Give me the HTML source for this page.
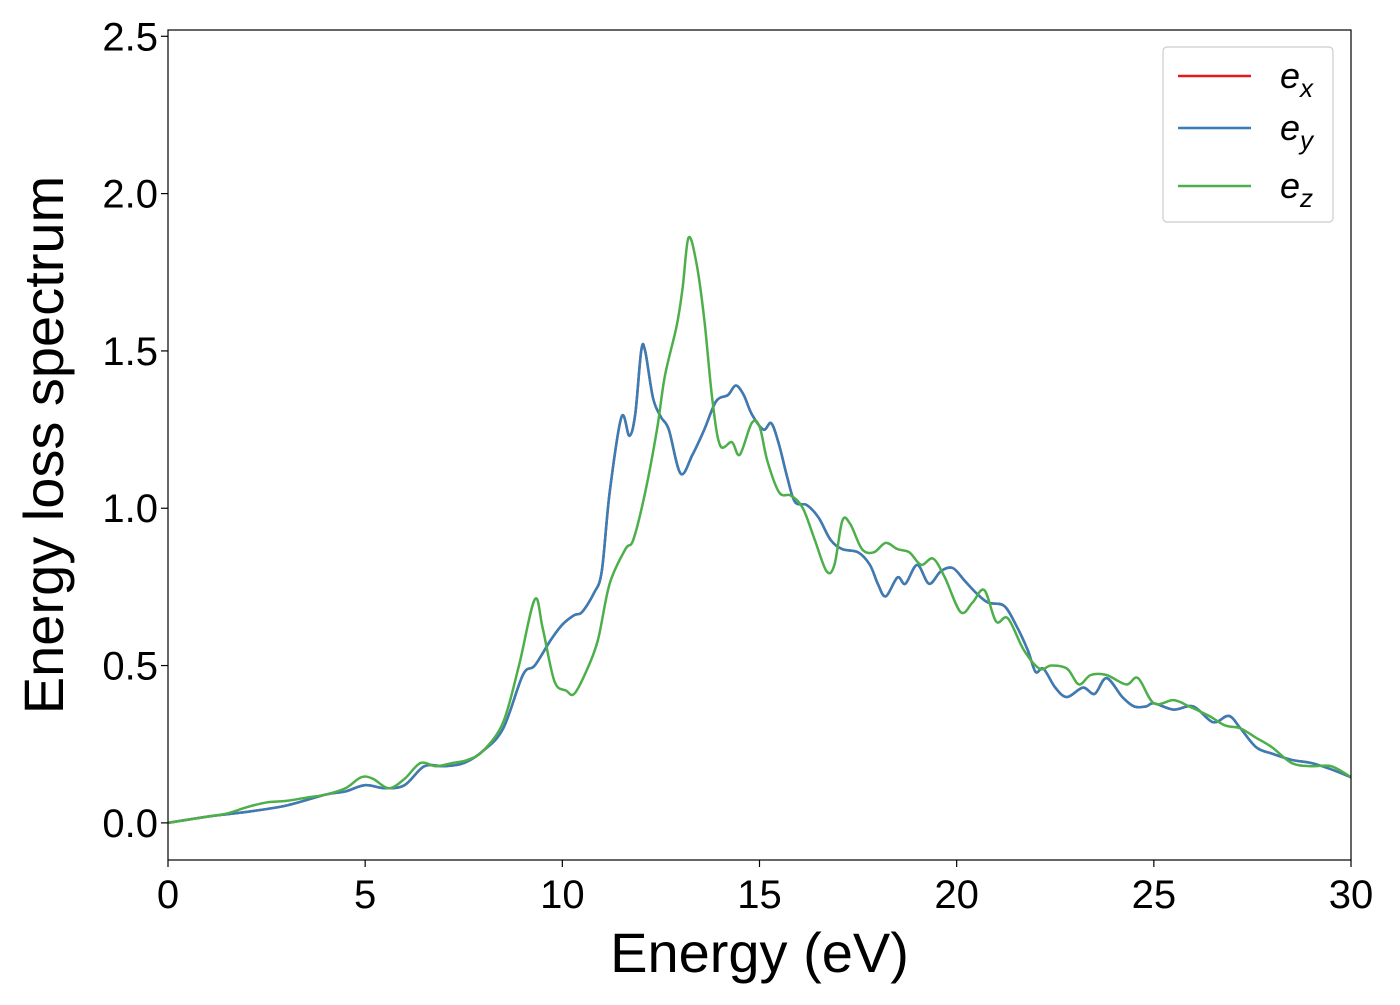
<!DOCTYPE html>
<html><head><meta charset="utf-8"><style>
body{margin:0;background:#fff}
text{font-family:"Liberation Sans","DejaVu Sans",sans-serif}
</style></head><body>
<svg id="chart" width="1400" height="1000" xmlns="http://www.w3.org/2000/svg">
<rect width="1400" height="1000" fill="#fff"/>
<g id="plot"></g>
</svg>
<script>
const xTicks=[0,5,10,15,20,25,30];
const yTicks=[0.0,0.5,1.0,1.5,2.0,2.5];
const xyEnergy=[0,1,2,3,4,4.5,5,5.5,6,6.5,7,7.5,8,8.5,9,9.3,9.7,10,10.3,10.5,10.8,11,11.2,11.5,11.7,11.85,12,12.1,12.3,12.5,12.7,13,13.3,13.6,13.9,14.2,14.4,14.6,14.8,15.1,15.3,15.5,15.7,15.9,16.2,16.5,16.8,17.1,17.5,17.8,18,18.2,18.5,18.7,19,19.3,19.6,19.9,20.2,20.5,20.8,21.2,21.5,21.8,22,22.2,22.5,22.8,23.2,23.5,23.8,24.2,24.5,24.8,25,25.5,26,26.5,26.9,27.2,27.6,28,28.5,29,29.5,30];
const xyLoss=[0,0.02,0.035,0.055,0.09,0.1,0.12,0.11,0.12,0.18,0.18,0.19,0.23,0.3,0.47,0.5,0.58,0.63,0.66,0.67,0.73,0.8,1.05,1.29,1.23,1.3,1.5,1.5,1.35,1.29,1.25,1.11,1.17,1.25,1.34,1.36,1.39,1.36,1.3,1.25,1.27,1.2,1.1,1.02,1.01,0.97,0.9,0.87,0.86,0.82,0.76,0.72,0.78,0.76,0.82,0.76,0.8,0.81,0.77,0.73,0.7,0.69,0.63,0.55,0.48,0.49,0.43,0.4,0.43,0.41,0.46,0.4,0.37,0.37,0.38,0.36,0.37,0.32,0.34,0.3,0.24,0.22,0.2,0.19,0.17,0.145];
const zEnergy=[0,1,1.5,2,2.5,3,3.5,4,4.5,4.9,5.2,5.6,6,6.4,6.8,7.2,7.6,8,8.5,8.9,9.3,9.5,9.8,10.1,10.3,10.6,10.9,11.2,11.6,11.8,12.1,12.4,12.6,12.9,13.05,13.2,13.4,13.6,13.8,14,14.3,14.5,14.8,15,15.2,15.5,15.8,16.1,16.4,16.7,16.9,17.1,17.3,17.6,17.9,18.2,18.5,18.8,19.1,19.4,19.7,20.1,20.4,20.7,21,21.3,21.7,22.1,22.4,22.8,23.1,23.4,23.8,24.3,24.6,25,25.5,25.9,26.4,26.8,27.2,27.6,28,28.5,29,29.5,30];
const zLoss=[0,0.02,0.03,0.05,0.065,0.07,0.08,0.09,0.11,0.145,0.14,0.11,0.14,0.19,0.18,0.19,0.2,0.23,0.32,0.5,0.71,0.62,0.45,0.42,0.41,0.48,0.58,0.76,0.87,0.9,1.05,1.25,1.42,1.58,1.7,1.86,1.78,1.6,1.35,1.2,1.21,1.17,1.27,1.26,1.15,1.05,1.04,1.0,0.9,0.8,0.82,0.96,0.95,0.87,0.86,0.89,0.87,0.86,0.82,0.84,0.78,0.67,0.7,0.74,0.64,0.65,0.55,0.49,0.5,0.49,0.44,0.47,0.47,0.44,0.46,0.38,0.39,0.37,0.34,0.31,0.3,0.27,0.24,0.19,0.18,0.18,0.145];

const L=168,R=1351,T=30,B=860,xMin=0,xMax=30,yMin=-0.118,yMax=2.52;
const sx=v=>L+(v-xMin)/(xMax-xMin)*(R-L);
const sy=v=>B-(v-yMin)/(yMax-yMin)*(B-T);
const NS="http://www.w3.org/2000/svg";
const g=document.getElementById('plot');
function mk(tag,attrs,parent){const e=document.createElementNS(NS,tag);for(const k in attrs)e.setAttribute(k,attrs[k]);(parent||g).appendChild(e);return e;}
function smooth(xs,ys){const p=xs.map((x,i)=>[sx(x),sy(ys[i])]);let d=`M${p[0][0]},${p[0][1]}`;
 for(let i=0;i<p.length-1;i++){const p0=p[i-1]||p[i],p1=p[i],p2=p[i+1],p3=p[i+2]||p2;
  const c1=[p1[0]+(p2[0]-p0[0])/6,p1[1]+(p2[1]-p0[1])/6],c2=[p2[0]-(p3[0]-p1[0])/6,p2[1]-(p3[1]-p1[1])/6];
  d+=`C${c1[0]},${c1[1]} ${c2[0]},${c2[1]} ${p2[0]},${p2[1]}`;}return d;}
const clip=mk('clipPath',{id:'c'});mk('rect',{x:L,y:T,width:R-L,height:B-T},clip);
const series=[['ex-line','#e41a1c',xyEnergy,xyLoss],['ey-line','#377eb8',xyEnergy,xyLoss],['ez-line','#4daf4a',zEnergy,zLoss]];
series.forEach(s=>{const p=mk('path',{d:smooth(s[2],s[3]),fill:'none',stroke:s[1],'stroke-width':2.5,'clip-path':'url(#c)'});

});
const fr=mk('rect',{x:L,y:T,width:R-L,height:B-T,fill:'none',stroke:'#000','stroke-width':1.2});


xTicks.forEach(v=>{mk('line',{x1:sx(v),x2:sx(v),y1:B,y2:B+7,stroke:'#000','stroke-width':1.2});
const t=mk('text',{x:sx(v),y:B+48,'font-size':40,'text-anchor':'middle'});t.textContent=v;

});
yTicks.forEach(v=>{mk('line',{x1:L-7,x2:L,y1:sy(v),y2:sy(v),stroke:'#000','stroke-width':1.2});
const t=mk('text',{x:L-10,y:sy(v)+14,'font-size':40,'text-anchor':'end'});t.textContent=v.toFixed(1);

});
const xl=mk('text',{x:(L+R)/2,y:972,'font-size':56,'text-anchor':'middle'});xl.textContent='Energy (eV)';


const yl=mk('text',{x:0,y:0,'font-size':56,'text-anchor':'middle',transform:`translate(63,${(T+B)/2+0}) rotate(-90)`});yl.textContent='Energy loss spectrum';


const lg=mk('g',{});


mk('rect',{x:1163,y:47,width:170,height:175,rx:4,fill:'#fff',stroke:'#ccc','stroke-width':1.2},lg);
[['x','#e41a1c',76],['y','#377eb8',128],['z','#4daf4a',186]].forEach(e=>{
const ln=mk('line',{x1:1178,x2:1251,y1:e[2],y2:e[2],stroke:e[1],'stroke-width':2.5},lg);


const t=mk('text',{x:1280,y:e[2]+12,'font-size':36,'font-style':'italic'},lg);


t.textContent='e';const ts=mk('tspan',{dy:9,'font-size':26},t);ts.textContent=e[0];});
</script>
</body></html>
